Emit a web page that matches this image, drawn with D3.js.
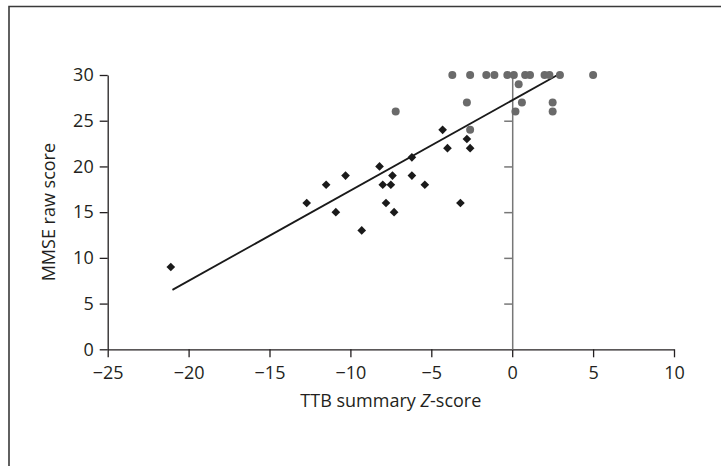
<!DOCTYPE html>
<html>
<head>
<meta charset="utf-8">
<script src="https://cdn.jsdelivr.net/npm/d3@7"></script>
<style>
  body { margin: 0; background: #fff; }
  text { font-family: "Open Sans", "Noto Sans", sans-serif; fill: #231f20; }
</style>
</head>
<body>
<svg id="chart" width="721" height="466"></svg>
<script>
// diamonds (black series)
const diamondX = [-21.1, -12.7, -11.5, -10.9, -10.3, -9.3, -8.2, -8.0, -7.8, -7.5, -7.4, -7.3, -6.2, -6.2, -5.4, -4.3, -4.0, -3.2, -2.8, -2.6];
const diamondY = [9, 16, 18, 15, 19, 13, 20, 18, 16, 18, 19, 15, 21, 19, 18, 24, 22, 16, 23, 22];

// circles (grey series)
const circleX = [-7.2, -3.7, -2.8, -2.6, -2.6, -1.6, -1.1, -0.3, 0.1, 0.2, 0.4, 0.6, 0.8, 1.1, 2.0, 2.3, 2.5, 2.5, 2.95, 5.0];
const circleY = [26, 30, 27, 30, 24, 30, 30, 30, 30, 26, 29, 27, 30, 30, 30, 30, 27, 26, 30, 30];

// regression line end points
const fitX = [-21, 2.8];
const fitY = [6.5, 30];

const xTicks = [-25, -20, -15, -10, -5, 0, 5, 10];
const yTicks = [0, 5, 10, 15, 20, 25, 30];

const svg = d3.select('#chart');
const margin = {top: 75, right: 47, bottom: 116.7, left: 107.7};
const width = 721, height = 466;

const x = d3.scaleLinear().domain([-25, 10]).range([margin.left, width - margin.right]);
const y = d3.scaleLinear().domain([0, 30]).range([height - margin.bottom, margin.top]);

// frame (left + top only)
svg.append('path')
  .attr('d', `M9,466 V6.5 H721`)
  .attr('fill', 'none')
  .attr('stroke', '#3a3a3a')
  .attr('stroke-width', 1.6);

const fmt = d => d < 0 ? '\u2212' + Math.abs(d) : d;

// x axis
svg.append('g')
  .attr('transform', `translate(0, ${y(0)})`)
  .call(d3.axisBottom(x).tickValues(xTicks).tickSize(8).tickSizeOuter(0).tickPadding(9).tickFormat(fmt))
  .call(g => g.selectAll('path, line').attr('stroke', '#231f20').attr('stroke-width', 1.3))
  .call(g => g.selectAll('text').attr('font-size', 18).attr('font-family', null));

// y axis
svg.append('g')
  .attr('transform', `translate(${x(-25)}, 0)`)
  .call(d3.axisLeft(y).tickValues(yTicks).tickSize(8).tickSizeOuter(0).tickPadding(6))
  .call(g => g.selectAll('path, line').attr('stroke', '#231f20').attr('stroke-width', 1.3))
  .call(g => g.selectAll('text').attr('font-size', 18).attr('font-family', null));

// zero reference axis (grey)
svg.append('g')
  .attr('transform', `translate(${x(0)}, 0)`)
  .call(d3.axisLeft(y).tickValues(yTicks.filter(d => d > 0)).tickSize(8).tickSizeOuter(0).tickFormat(''))
  .call(g => g.selectAll('path, line').attr('stroke', '#777').attr('stroke-width', 1.5));

// axis titles
svg.append('text')
  .attr('x', (x(-25) + x(10)) / 2)
  .attr('y', 407)
  .attr('text-anchor', 'middle')
  .attr('font-size', 18)
  .call(t => {
    t.append('tspan').text('TTB summary ');
    t.append('tspan').attr('font-style', 'italic').text('Z');
    t.append('tspan').text('-score');
  });

svg.append('text')
  .attr('transform', `translate(55, ${(y(0) + y(30)) / 2}) rotate(-90)`)
  .attr('text-anchor', 'middle')
  .attr('font-size', 18)
  .text('MMSE raw score');

// regression line
svg.append('line')
  .attr('x1', x(fitX[0])).attr('y1', y(fitY[0]))
  .attr('x2', x(fitX[1])).attr('y2', y(fitY[1]))
  .attr('stroke', '#1a1a1a')
  .attr('stroke-width', 1.8);

// grey circles
svg.append('g').selectAll('circle')
  .data(circleX.map((d, i) => [d, circleY[i]]))
  .join('circle')
  .attr('cx', d => x(d[0]))
  .attr('cy', d => y(d[1]))
  .attr('r', 4)
  .attr('fill', '#6a6a6a');

// black diamonds
const diamond = d3.symbol().type(d3.symbolDiamond2).size(48);
svg.append('g').selectAll('path')
  .data(diamondX.map((d, i) => [d, diamondY[i]]))
  .join('path')
  .attr('d', diamond)
  .attr('transform', d => `translate(${x(d[0])}, ${y(d[1])})`)
  .attr('fill', '#1a1a1a');
</script>
</body>
</html>
